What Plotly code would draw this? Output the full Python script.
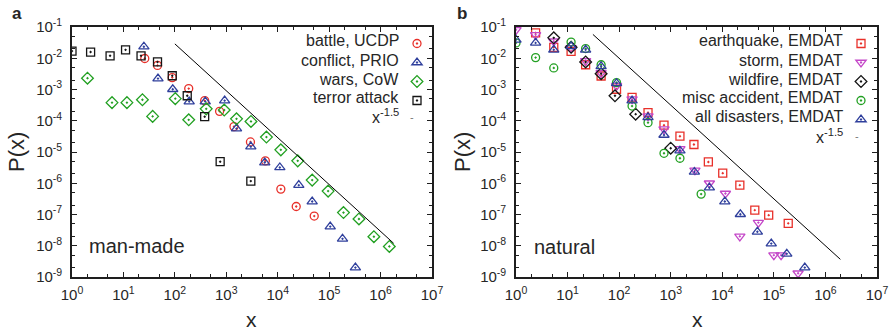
import plotly.graph_objects as go

# ---------------- data: panel a (man-made) ----------------
battle_x = [26, 46, 89, 186, 380, 741, 1410, 2950, 5750, 11500, 22900, 51300]
battle_y = [9.8e-3, 5.9e-3, 2.4e-3, 1.07e-3, 4.4e-4, 2.0e-4, 6.5e-5, 2.1e-5, 5.2e-6, 6.5e-7, 1.8e-7, 8.9e-8]

conflict_x = [25, 47, 91, 190, 390, 930, 1580, 3000, 5600, 11000, 25700, 46800, 105000, 182000, 324000]
conflict_y = [2.34e-2, 2.24e-3, 1.02e-3, 4.1e-4, 4.1e-4, 4.4e-4, 5.6e-5, 1.48e-5, 4.6e-6, 3.2e-6, 8.7e-7,
              2.6e-7, 4.1e-8, 1.66e-8, 2.0e-9]

wars_x = [2, 6, 11.7, 23.4, 37, 102, 186, 407, 912, 1580, 3020, 6030, 11500, 24500, 46800, 95500,
          190000, 380000, 741000, 1.48e6]
wars_y = [2.3e-3, 3.8e-4, 3.8e-4, 4.7e-4, 1.38e-4, 5.1e-4, 1.07e-4, 2.4e-4, 2.2e-4, 1.15e-4, 9.5e-5,
          3.0e-5, 1.17e-5, 5.2e-6, 1.26e-6, 5.6e-7, 1.15e-7, 7.2e-8, 1.95e-8, 9.5e-9]

terror_x = [1, 2.3, 5.5, 11, 22, 46, 89, 174, 380, 760, 3000]
terror_y = [1.7e-2, 1.58e-2, 1.2e-2, 1.86e-2, 1.2e-2, 7.6e-3, 2.75e-3, 6.3e-4, 1.35e-4, 4.9e-6, 1.17e-6]

# ---------------- data: panel b (natural) ----------------
quake_x = [2.4, 5.4, 11.7, 22.4, 44.7, 89, 178, 363, 741, 1510, 2820, 5370, 10200, 21900, 42700, 79400, 190000]
quake_y = [6.5e-2, 2.24e-2, 1.66e-2, 6.2e-3, 2.7e-3, 1.02e-3, 5.6e-4, 1.82e-4, 7.2e-5, 3.2e-5, 1.74e-5,
           4.8e-6, 2.1e-6, 8.7e-7, 1.38e-7, 9.5e-8, 5.2e-8]

storm_x = [1, 2.4, 5.4, 11.7, 22.4, 44.7, 89, 178, 363, 741, 1510, 2950, 5620, 11500, 21900, 50100,
           100000, 138000, 295000]
storm_y = [8.1e-2, 5.6e-2, 3.5e-2, 2.14e-2, 8.3e-3, 3.4e-3, 1.32e-3, 4.9e-4, 1.41e-4, 5.4e-5, 1.26e-5,
           2.6e-6, 1.0e-6, 4.7e-7, 2.0e-8, 5.5e-8, 5.0e-9, 5.0e-9, 1.32e-9]

fire_x = [5.4, 11.7, 22.4, 44.7, 83, 209, 1000]
fire_y = [4.5e-2, 2.24e-2, 7.6e-3, 3.2e-3, 6.3e-4, 1.62e-4, 1.32e-5]

misc_x = [1, 2.4, 5.4, 11.7, 22.4, 44.7, 89, 178, 363, 741, 1510, 3890]
misc_y = [3.1e-2, 1.05e-2, 4.9e-3, 3.3e-2, 2.04e-2, 6.2e-3, 1.66e-3, 2.95e-4, 8.7e-5, 9.1e-6, 6.3e-6, 4.5e-7]

all_x = [1, 2.4, 5.4, 11.7, 22.4, 44.7, 89, 178, 363, 741, 1510, 2880, 5620, 11200, 22400, 47900,
         89100, 178000, 398000]
all_y = [3.9e-2, 3.1e-2, 1.86e-2, 2.4e-2, 1.86e-2, 5.5e-3, 1.58e-3, 4.4e-4, 1.29e-4, 3.5e-5, 1.1e-5,
         2.3e-6, 7.2e-7, 2.6e-7, 1.02e-7, 2.8e-8, 1.17e-8, 5.5e-9, 2.0e-9]

# reference power laws  P(x) = C * x^-1.5
law_exp = -1.5
law_a_x = [100, 1.8e6]
law_a_c = 28.8
law_b_x = [31, 1.95e6]
law_b_c = 10.0

x_tickvals = [1, 10, 100, 1e3, 1e4, 1e5, 1e6, 1e7]
x_ticktext = ["10<sup>%d</sup>" % i for i in range(8)]
y_tickvals = [1e-9, 1e-8, 1e-7, 1e-6, 1e-5, 1e-4, 1e-3, 1e-2, 1e-1]
y_ticktext = ["10<sup>%d</sup>" % i for i in range(-9, 0)]

legend_a = ["battle, UCDP", "conflict, PRIO", "wars, CoW", "terror attack"]
legend_b = ["earthquake, EMDAT", "storm, EMDAT", "wildfire, EMDAT", "misc accident, EMDAT", "all disasters, EMDAT"]

RED = "#e8302a"
BLUE = "#2f3f9c"
GREEN = "#22a022"
MAG = "#c447c8"
BLK = "#151515"

W, H = 892, 330
FONT = "Liberation Sans, Arial, sans-serif"
TXT = "#262626"

def px(x):
    return x / W

def py(y):
    return 1 - y / H

fig = go.Figure()

def add_pts(x, y, sym, color, size, xa, ya, leg, label):
    fig.add_trace(go.Scatter(
        x=x, y=y, mode="markers", xaxis=xa, yaxis=ya, legend=leg, name=" ",
        hovertemplate=label + "<br>x=%{x}<br>P=%{y}<extra></extra>",
        marker=dict(symbol=sym, color=color, size=size, line=dict(color=color, width=1.3)),
    ))

add_pts(battle_x, battle_y, "circle-open-dot", RED, 8, "x", "y", "legend", legend_a[0])
add_pts(conflict_x, conflict_y, "triangle-up-open-dot", BLUE, 9, "x", "y", "legend", legend_a[1])
add_pts(wars_x, wars_y, "diamond-open-dot", GREEN, 9, "x", "y", "legend", legend_a[2])
add_pts(terror_x, terror_y, "square-open-dot", BLK, 8, "x", "y", "legend", legend_a[3])

add_pts(quake_x, quake_y, "square-open-dot", RED, 8, "x2", "y2", "legend2", legend_b[0])
add_pts(storm_x, storm_y, "triangle-down-open-dot", MAG, 9, "x2", "y2", "legend2", legend_b[1])
add_pts(fire_x, fire_y, "diamond-open-dot", BLK, 9, "x2", "y2", "legend2", legend_b[2])
add_pts(misc_x, misc_y, "circle-open-dot", GREEN, 8, "x2", "y2", "legend2", legend_b[3])
add_pts(all_x, all_y, "triangle-up-open-dot", BLUE, 9, "x2", "y2", "legend2", legend_b[4])

fig.add_trace(go.Scatter(x=law_a_x, y=[law_a_c * v ** law_exp for v in law_a_x], mode="lines",
                         xaxis="x", yaxis="y", showlegend=False, line=dict(color="black", width=1)))
fig.add_trace(go.Scatter(x=law_b_x, y=[law_b_c * v ** law_exp for v in law_b_x], mode="lines",
                         xaxis="x2", yaxis="y2", showlegend=False, line=dict(color="black", width=1)))

axis_common = dict(
    type="log", showgrid=False, zeroline=False, showline=True, linecolor="#1e1e1e", linewidth=1.6,
    mirror="allticks", ticks="inside", ticklen=5, tickwidth=1, tickcolor="#1e1e1e", automargin=False,
    minor=dict(ticks="inside", ticklen=3, tickwidth=1, tickcolor="#1e1e1e", dtick="D2"),
    tickfont=dict(family=FONT, size=15, color=TXT),
)
xdom_a = [px(72), px(432)]
xdom_b = [px(516), px(877)]
ydom = [1 - 277 / H, 1 - 27 / H]

fig.update_layout(
    width=W, height=H, margin=dict(l=0, r=0, t=0, b=0, autoexpand=False),
    paper_bgcolor="white", plot_bgcolor="white",
    font=dict(family=FONT, color=TXT),
    xaxis=dict(axis_common, domain=xdom_a, range=[0, 7], tickvals=x_tickvals, ticktext=x_ticktext,
               anchor="y", ticklabelstandoff=3),
    yaxis=dict(axis_common, domain=ydom, range=[-9, -1], tickvals=y_tickvals, ticktext=y_ticktext,
               anchor="x", ticklabelstandoff=5),
    xaxis2=dict(axis_common, domain=xdom_b, range=[0, 7], tickvals=x_tickvals, ticktext=x_ticktext,
                anchor="y2", ticklabelstandoff=3),
    yaxis2=dict(axis_common, domain=ydom, range=[-9, -1], tickvals=y_tickvals, ticktext=y_ticktext,
                anchor="x2", ticklabelstandoff=5),
    legend=dict(x=px(412 - 15), y=py(29), xanchor="left", yanchor="top", bgcolor="rgba(0,0,0,0)",
                font=dict(size=9, family=FONT), itemwidth=30, tracegroupgap=0),
    legend2=dict(x=px(856 - 15), y=py(29), xanchor="left", yanchor="top", bgcolor="rgba(0,0,0,0)",
                 font=dict(size=9, family=FONT), itemwidth=30, tracegroupgap=0),
    showlegend=True,
)

ann = []
def text(x, y, s, size, xanchor="center", yanchor="middle", angle=0, bold=False, color=TXT):
    ann.append(dict(x=px(x), y=py(y), xref="paper", yref="paper", text=("<b>%s</b>" % s) if bold else s,
                    showarrow=False, xanchor=xanchor, yanchor=yanchor, textangle=angle,
                    font=dict(family=FONT, size=size, color=color)))

rows = [40.7, 60, 79, 97.7, 116.7]
for i, lab in enumerate(legend_a):
    text(401, rows[i], lab, 16, xanchor="right")
text(401, 116, "x<sup>-1.5</sup>", 16, xanchor="right")
text(412, 116.7, "-", 11, color="#777")

for i, lab in enumerate(legend_b):
    text(845, rows[i], lab, 16, xanchor="right")
text(845, 135.5, "x<sup>-1.5</sup>", 16, xanchor="right")
text(857, 136, "-", 11, color="#777")

text(87, 246, "man-made", 20, xanchor="left")
text(532, 247, "natural", 20, xanchor="left")
text(17, 13, "a", 17, bold=True)
text(462, 13, "b", 17, bold=True)
text(16, 152, "P(x)", 22, angle=-90)
text(462, 152, "P(x)", 22, angle=-90)
text(252, 319, "x", 21)
text(697, 319, "x", 21)

fig.update_layout(annotations=ann)
fig.write_html("out.html")
